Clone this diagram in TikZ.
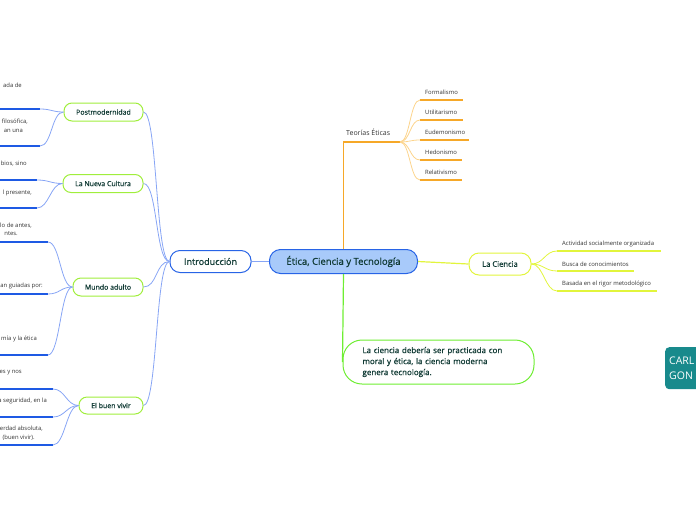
\documentclass[tikz,border=0pt]{standalone}
\usepackage{fontspec}
\setmainfont{Open Sans}
\newfontfamily\topicfont[FakeBold=0.8]{Open Sans}

\newlength{\du}
\setlength{\du}{1pt}

\definecolor{topicblue}{RGB}{40,100,230}
\definecolor{topicfill}{RGB}{168,202,250}
\definecolor{linkblue}{RGB}{135,165,245}
\definecolor{leafblue}{RGB}{30,90,228}
\definecolor{subgreen}{RGB}{160,238,60}
\definecolor{orangeline}{RGB}{246,168,40}
\definecolor{orangesoft}{RGB}{252,212,140}
\definecolor{limeline}{RGB}{226,245,60}
\definecolor{boxgreen}{RGB}{110,238,50}
\definecolor{inktext}{RGB}{16,58,52}
\definecolor{leaftext}{RGB}{51,51,51}
\definecolor{badgeteal}{RGB}{24,138,140}

\tikzset{
  centralbox/.style={draw=topicblue, fill=topicfill, line width=1\du, rounded corners=11\du,
    minimum width=148\du, minimum height=24\du, inner sep=0pt, text=inktext,
    font=\topicfont\fontsize{9.5}{11}\selectfont},
  mainbox/.style={draw=topicblue, fill=white, line width=1\du, rounded corners=10\du,
    minimum height=22\du, inner sep=0pt, text=inktext, font=\topicfont\fontsize{9}{11}\selectfont},
  subbox/.style={draw=subgreen, fill=white, line width=1\du, rounded corners=8\du,
    minimum height=18\du, inner sep=0pt, text=inktext, font=\topicfont\fontsize{7}{8}\selectfont},
  sciencebox/.style={draw=limeline, fill=white, line width=1\du, rounded corners=10\du,
    minimum width=62\du, minimum height=22\du, inner sep=0pt, text=inktext,
    font=\topicfont\fontsize{7.6}{9}\selectfont},
  ideabox/.style={draw=boxgreen, fill=white, line width=1\du, rounded corners=19\du,
    text width=152\du, inner xsep=19.5\du, minimum height=44\du, align=left, text=inktext,
    font=\topicfont\fontsize{8}{11}\selectfont},
  badge/.style={fill=badgeteal, rounded corners=4\du, text width=52\du, inner xsep=4\du,
    minimum height=42\du, align=left, text=white, font=\fontsize{10.5}{14.5}\selectfont},
  leaflabel/.style={inner sep=0pt, text=leaftext, font=\fontsize{5.9}{7}\selectfont},
  themelabel/.style={inner sep=0pt, text=leaftext, font=\fontsize{7}{8}\selectfont},
  introlink/.style={draw=linkblue, line width=0.8\du},
  leafline/.style={draw=leafblue, line width=1.6\du},
  orangestem/.style={draw=orangeline, line width=1.4\du},
  orangelink/.style={draw=orangesoft, line width=0.8\du},
  orangeleaf/.style={draw=orangeline, line width=1.4\du},
  limestem/.style={draw=limeline, line width=1.2\du},
  limeleaf/.style={draw=limeline, line width=1.2\du},
  greenstem/.style={draw=boxgreen, line width=1.2\du},
}

\begin{document}
\begin{tikzpicture}
\pgftransformxscale{1.000000}
\pgftransformyscale{-1.000000}
\useasboundingbox (0\du,0\du) rectangle (696\du,520\du);

% main topics
\node[centralbox] (etica) at (343.5\du,261.5\du){Ética, Ciencia y Tecnología};
\node[mainbox, minimum width=81\du] (intro) at (210.5\du,261.5\du){Introducción};
\draw[introlink, line width=1.2\du] (etica.west)--(intro.east);

% left side
\node[subbox, minimum width=79\du] (postmod) at (103.5\du,112\du){Postmodernidad};
\node[subbox, minimum width=80\du] (cultura) at (103\du,183.5\du){La Nueva Cultura};
\node[subbox, minimum width=70\du] (adulto) at (108\du,287\du){Mundo adulto};
\node[subbox, minimum width=64\du, minimum height=17\du] (vivir) at (111\du,405.5\du){El buen vivir};
\draw[introlink] (intro.west) .. controls +(-14\du,0) and +(14\du,0) .. (postmod.east);
\draw[introlink] (intro.west) .. controls +(-14\du,0) and +(14\du,0) .. (cultura.east);
\draw[introlink] (intro.west) .. controls +(-14\du,0) and +(14\du,0) .. (adulto.east);
\draw[introlink] (intro.west) .. controls +(-14\du,0) and +(14\du,0) .. (vivir.east);

% Postmodernidad
\coordinate (pm1) at (40\du,109\du);
\coordinate (pm2) at (40\du,146\du);
\draw[leafline] (pm1)--++(-45\du,0);
\draw[leafline] (pm2)--++(-45\du,0);
\draw[introlink] (postmod.west) .. controls +(-12\du,0) and +(12\du,0) .. (pm1);
\draw[introlink] (postmod.west) .. controls +(-12\du,0) and +(12\du,0) .. (pm2);
\node[leaflabel, anchor=east] (pm1a) at (22\du,85\du){ada de};
\node[leaflabel, anchor=east] (pm2a) at (28\du,121.5\du){filosófica,};
\node[leaflabel, anchor=east] (pm2b) at (23\du,130.5\du){an una};

% La Nueva Cultura
\coordinate (nc1) at (37\du,180\du);
\coordinate (nc2) at (37\du,208\du);
\draw[leafline] (nc1)--++(-45\du,0);
\draw[leafline] (nc2)--++(-45\du,0);
\draw[introlink] (cultura.west) .. controls +(-12\du,0) and +(12\du,0) .. (nc1);
\draw[introlink] (cultura.west) .. controls +(-12\du,0) and +(12\du,0) .. (nc2);
\node[leaflabel, anchor=east] (nc1a) at (27\du,164\du){bios, sino};
\node[leaflabel, anchor=east] (nc2a) at (32\du,193\du){l presente,};

% Mundo adulto
\coordinate (ma1) at (48\du,242\du);
\coordinate (ma2) at (48\du,294\du);
\coordinate (ma3) at (48\du,355\du);
\draw[leafline] (ma1)--++(-55\du,0);
\draw[leafline] (ma2)--++(-55\du,0);
\draw[leafline] (ma3)--++(-55\du,0);
\draw[introlink] (adulto.west) .. controls +(-12\du,0) and +(12\du,0) .. (ma1);
\draw[introlink] (adulto.west) .. controls +(-12\du,0) and +(12\du,0) .. (ma2);
\draw[introlink] (adulto.west) .. controls +(-12\du,0) and +(12\du,0) .. (ma3);
\node[leaflabel, anchor=east] (ma1a) at (32\du,226\du){lo de antes,};
\node[leaflabel, anchor=east] (ma1b) at (18\du,233.5\du){ntes.};
\node[leaflabel, anchor=east] (ma2a) at (43\du,286\du){an guiadas por:};
\node[leaflabel, anchor=east] (ma3a) at (37\du,339\du){mía y la ética};

% El buen vivir
\coordinate (bv1) at (53\du,389\du);
\coordinate (bv2) at (53\du,417\du);
\coordinate (bv3) at (53\du,445\du);
\draw[leafline] (bv1)--++(-60\du,0);
\draw[leafline] (bv2)--++(-60\du,0);
\draw[leafline] (bv3)--++(-60\du,0);
\draw[introlink] (vivir.west) .. controls +(-12\du,0) and +(12\du,0) .. (bv1);
\draw[introlink] (vivir.west) .. controls +(-12\du,0) and +(12\du,0) .. (bv2);
\draw[introlink] (vivir.west) .. controls +(-12\du,0) and +(12\du,0) .. (bv3);
\node[leaflabel, anchor=east] (bv1a) at (22\du,373\du){es y nos};
\node[leaflabel, anchor=east] (bv2a) at (47\du,401\du){a seguridad, en la};
\node[leaflabel, anchor=east] (bv3a) at (43\du,429\du){verdad absoluta,};
\node[leaflabel, anchor=east] (bv3b) at (35\du,437.5\du){(buen vivir).};

% Teorias Eticas
\coordinate (teoriasend) at (400\du,142\du);
\draw[orangestem] (etica.north) |- (teoriasend);
\node[themelabel, anchor=west] (teorias) at (346\du,132\du){Teorías Éticas};
\coordinate (formal) at (420\du,100\du);
\coordinate (utilit) at (420\du,120\du);
\coordinate (eudem) at (420\du,140\du);
\coordinate (hedon) at (420\du,160\du);
\coordinate (relat) at (420\du,180\du);
\draw[orangeleaf] (formal)--++(43\du,0);
\draw[orangeleaf] (utilit)--++(43\du,0);
\draw[orangeleaf] (eudem)--++(49\du,0);
\draw[orangeleaf] (hedon)--++(42\du,0);
\draw[orangeleaf] (relat)--++(42\du,0);
\draw[orangelink] (teoriasend) .. controls +(10\du,0) and +(-10\du,0) .. (formal);
\draw[orangelink] (teoriasend) .. controls +(10\du,0) and +(-10\du,0) .. (utilit);
\draw[orangelink] (teoriasend) .. controls +(10\du,0) and +(-10\du,0) .. (eudem);
\draw[orangelink] (teoriasend) .. controls +(10\du,0) and +(-10\du,0) .. (hedon);
\draw[orangelink] (teoriasend) .. controls +(10\du,0) and +(-10\du,0) .. (relat);
\node[leaflabel, anchor=west] (formaltext) at (425\du,92\du){Formalismo};
\node[leaflabel, anchor=west] (utilittext) at (425\du,112\du){Utilitarismo};
\node[leaflabel, anchor=west] (eudemtext) at (425\du,132\du){Eudemonismo};
\node[leaflabel, anchor=west] (hedontext) at (425\du,152\du){Hedonismo};
\node[leaflabel, anchor=west] (relattext) at (425\du,172\du){Relativismo};

% La Ciencia
\node[sciencebox] (ciencia) at (500\du,264\du){La Ciencia};
\draw[limestem] (etica.east)--(ciencia.west);
\coordinate (activ) at (557\du,251\du);
\coordinate (busca) at (557\du,271\du);
\coordinate (basada) at (557\du,291\du);
\draw[limeleaf] (activ)--++(104\du,0);
\draw[limeleaf] (busca)--++(77\du,0);
\draw[limeleaf] (basada)--++(100\du,0);
\draw[limestem, line width=0.8\du] (ciencia.east) .. controls +(12\du,0) and +(-12\du,0) .. (activ);
\draw[limestem, line width=0.8\du] (ciencia.east) .. controls +(12\du,0) and +(-12\du,0) .. (busca);
\draw[limestem, line width=0.8\du] (ciencia.east) .. controls +(12\du,0) and +(-12\du,0) .. (basada);
\node[leaflabel, anchor=west] (activtext) at (562\du,244\du){Actividad socialmente organizada};
\node[leaflabel, anchor=west] (buscatext) at (562\du,264\du){Busca de conocimientos};
\node[leaflabel, anchor=west] (basadatext) at (562\du,284\du){Basada en el rigor metodológico};

% idea
\node[ideabox] (idea) at (438.5\du,362\du){La ciencia debería ser practicada con\\moral y ética, la ciencia moderna\\genera tecnología.};
\draw[greenstem] (etica.south)--(idea.west);

% badge
\node[badge, anchor=north west] (autor) at (665\du,347\du){CARL\\GON};
\end{tikzpicture}
\end{document}
